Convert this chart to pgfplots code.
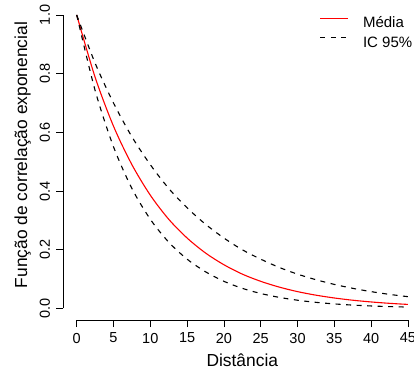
\documentclass[border=0pt]{standalone}
\usepackage{pgfplots}
\pgfplotsset{compat=1.18}
\usepackage{pgfplotstable}
\usepackage{fontspec}
\setmainfont{Liberation Sans}

\pgfplotstableread{
d     m       lo       hi
0     1.000   1.000    1.000
2.5   0.788   0.743    0.836
5     0.621   0.551    0.700
7.5   0.490   0.409    0.585
10    0.386   0.304    0.490
12.5  0.304   0.226    0.409
15    0.240   0.168    0.343
17.5  0.189   0.125    0.287
20    0.149   0.0925   0.240
22.5  0.117   0.0686   0.200
25    0.0925  0.0510   0.168
27.5  0.0729  0.0379   0.140
30    0.0574  0.0281   0.117
32.5  0.0453  0.0209   0.098
35    0.0357  0.0155   0.082
37.5  0.0281  0.0115   0.0686
40    0.0222  0.00855  0.0574
42.5  0.0175  0.00635  0.048
45    0.0138  0.00471  0.0402
}\corr

\begin{document}
\begin{tikzpicture}
\begin{axis}[
  scale only axis,
  width=357.7pt, height=317pt,
  xmin=-1.8, xmax=46.8, ymin=-0.04, ymax=1.04,
  clip=false,
  axis line style={draw=none},
  tick pos=left,
  tick align=outside,
  major tick length=7pt,
  tick style={black, line width=0.8pt},
  xtick={0,5,10,15,20,25,30,35,40,45},
  xticklabels={0,5,10,15,20,25,30,35,40,45},
  ytick={0,0.2,0.4,0.6,0.8,1.0},
  yticklabels={0.0,0.2,0.4,0.6,0.8,1.0},
  ticklabel style={font=\fontsize{14.5}{17}\selectfont},
  xticklabel style={anchor=north, inner sep=0pt},
  xticklabel shift=5.5pt,
  yticklabel style={rotate=90, anchor=base, inner sep=0pt},
  yticklabel shift=6.45pt,
  xlabel={Distância},
  ylabel={Função de correlação exponencial},
  every axis x label/.style={at={(axis description cs:0.5,-0.146)}, anchor=base, font=\fontsize{17.4}{20}\selectfont},
  every axis y label/.style={at={(axis description cs:-0.1019,0.521)}, rotate=90, anchor=base, font=\fontsize{17.4}{20}\selectfont},
  legend style={draw=none, fill=none, at={(0.717,0.958)}, anchor=north west,
    inner sep=0pt, outer sep=0pt, font=\fontsize{15}{18}\selectfont,
    row sep=5.7pt, column sep=14pt,
    nodes={inner sep=0pt, text height=11pt, text depth=3pt}},
  legend cell align=left,
  legend image code/.code={\draw[#1] (0pt,5.4pt) -- (28pt,5.4pt);},
]
\draw[line width=0.8pt] (axis cs:-1.8,0) -- (axis cs:-1.8,1);
\draw[line width=0.8pt] (axis cs:0,-0.04) -- (axis cs:45,-0.04);
\addplot[red, line width=1.1pt, smooth] table[x=d, y=m] {\corr};
\addlegendentry{Média}
\addplot[black, line width=1.1pt, dash pattern=on 5pt off 5.5pt, smooth] table[x=d, y=hi] {\corr};
\addlegendentry{IC 95\%}
\addplot[black, line width=1.1pt, dash pattern=on 5pt off 5.5pt, smooth, forget plot] table[x=d, y=lo] {\corr};
\end{axis}
\pgfresetboundingbox
\useasboundingbox (-63.45pt,-55.8pt) rectangle (350.55pt,320.2pt);
\end{tikzpicture}
\end{document}
